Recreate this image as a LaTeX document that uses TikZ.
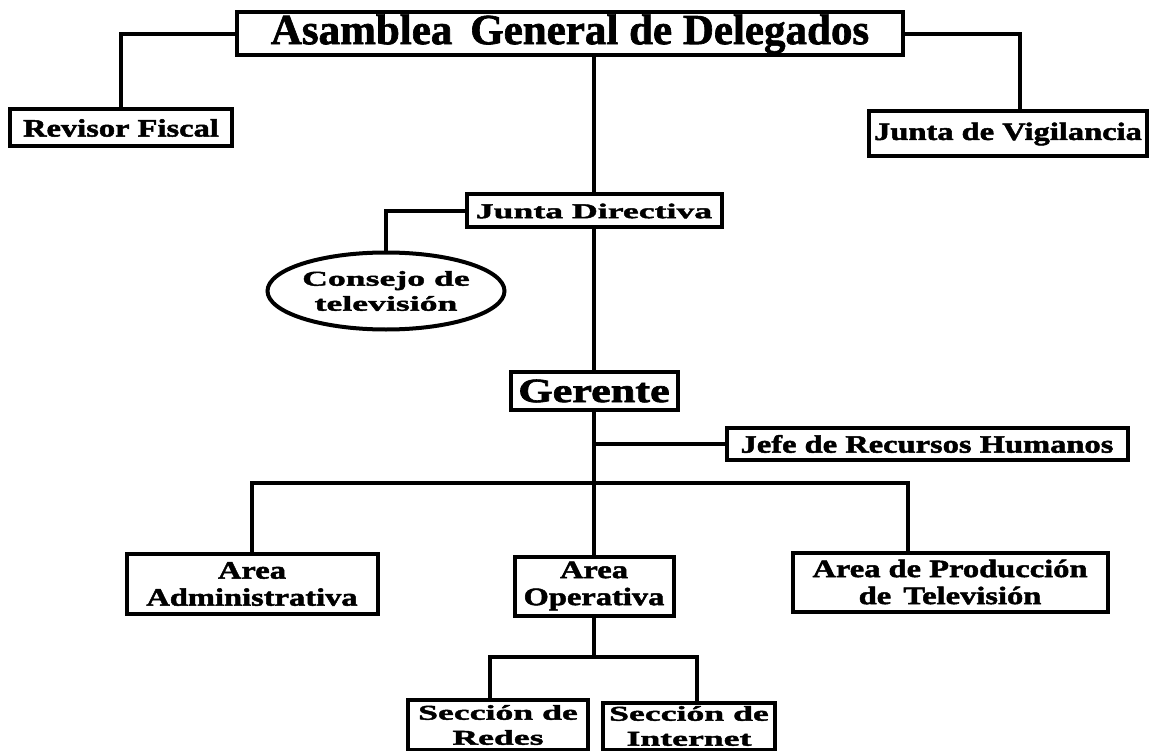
\documentclass[tikz,border=0pt]{standalone}
\usepackage{fontspec}
\setmainfont{Liberation Serif}[FakeBold=1.5]
\newfontfamily\boxfont{Liberation Serif}[FakeStretch=1.3,FakeBold=2]
\newfontfamily\widefont{Liberation Serif}[FakeStretch=1.7,FakeBold=2]
\usepackage{tikz}
\usetikzlibrary{calc,shapes.geometric}

\begin{document}
\begin{tikzpicture}[x=1pt,y=-1pt,
  line width=4pt,
  cargo/.style={draw,fill=white,inner sep=0pt,align=center,font=\boxfont\bfseries\fontsize{25}{27}\selectfont},
  cargoancho/.style={cargo,font=\widefont\bfseries\fontsize{21}{25}\selectfont},
  titulo/.style={cargo,font=\bfseries\fontsize{43}{45}\selectfont}]
\useasboundingbox (0,0) rectangle (1150,751);
\node[titulo,minimum width=666pt,minimum height=43pt] (asamblea) at (570,34) {Asamblea\, General de Delegados};
\node[cargo,minimum width=222pt,minimum height=37pt] (revisor) at (121,128) {Revisor Fiscal};
\node[cargo,minimum width=278pt,minimum height=45pt] (vigilancia) at (1008,134) {Junta de Vigilancia};
\node[cargoancho,minimum width=255pt,minimum height=33pt] (directiva) at (594,211) {Junta Directiva};
\node[cargoancho,ellipse,minimum width=217pt,minimum height=77pt] (consejo) at (386,291) {Consejo de\\televisión};
\node[cargo,minimum width=167pt,minimum height=38pt,font=\boxfont\bfseries\fontsize{34}{36}\selectfont] (gerente) at (594,391) {Gerente};
\node[cargo,minimum width=401pt,minimum height=32pt] (rrhh) at (927,444) {Jefe de Recursos Humanos};
\node[cargo,minimum width=251pt,minimum height=60pt] (admin) at (252,584) {Area\\Administrativa};
\node[cargo,minimum width=159pt,minimum height=59pt] (operativa) at (594,586) {Area\\Operativa};
\node[cargo,minimum width=315pt,minimum height=59pt] (produccion) at (950,582) {Area de Producción\\de\, Televisión};
\node[cargoancho,minimum width=180pt,minimum height=50pt] (redes) at (498,725) {Sección de\\Redes};
\node[cargoancho,minimum width=172pt,minimum height=47pt] (internet) at (689,726) {Sección de\\Internet};
\coordinate (barra) at (594,483);
\coordinate (subbarra) at (594,657);
\draw (asamblea.west) -| (revisor.north);
\draw (asamblea.east) -| ($(vigilancia.north)+(12,0)$);
\draw (directiva.north |- asamblea.south) -- (directiva.north);
\draw (directiva.west) -| (consejo.north);
\draw (directiva.south) -- (gerente.north);
\draw (gerente.south) -- (operativa.north);
\draw (gerente.south |- rrhh.west) -- (rrhh.west);
\draw (admin.north) |- (barra) -| ($(produccion.north)+(-42,0)$);
\draw (operativa.south) -- (subbarra);
\draw ($(redes.north)+(-8,0)$) |- (subbarra) -| ($(internet.north)+(8,0)$);
\end{tikzpicture}
\end{document}
